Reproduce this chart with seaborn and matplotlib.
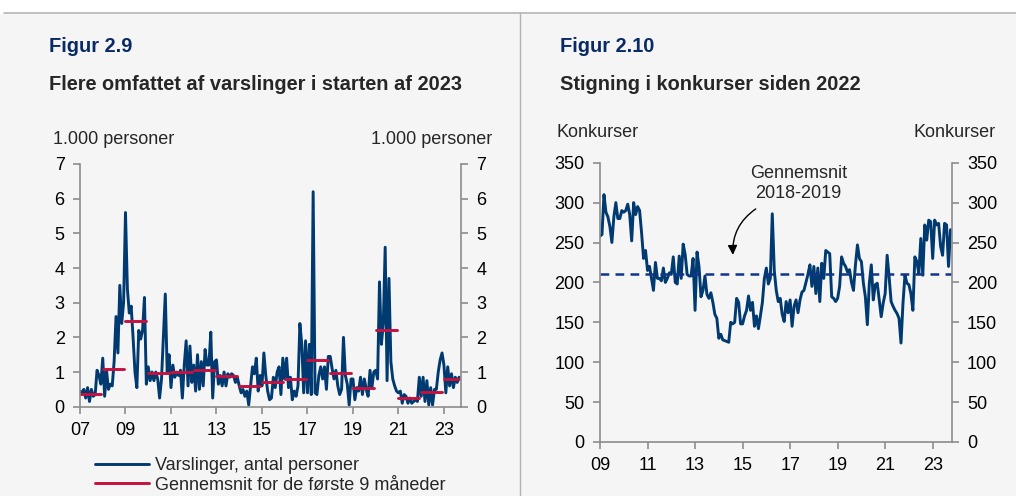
import numpy as np
import pandas as pd
import matplotlib.pyplot as plt
import seaborn as sns
from matplotlib.lines import Line2D
from matplotlib.patches import Rectangle

# Figur 2.9 - varslinger (1.000 personer), monthly from Jan 2007
varsling_start = 2007
varslinger = [
    0.45, 0.40, 0.50, 0.25, 0.55, 0.15, 0.50, 0.30, 0.35, 1.05, 0.90, 0.65,
    1.40, 0.30, 1.05, 0.50, 0.65, 0.60, 1.30, 2.60, 1.55, 3.50, 2.40, 3.00,
    5.60, 3.40, 2.70, 2.90, 2.00, 1.00, 0.55, 2.20, 1.95, 2.20, 3.15, 0.65,
    1.15, 0.75, 1.00, 0.75, 1.00, 0.80, 0.25, 0.80, 2.00, 3.25, 1.00, 1.50,
    0.55, 1.20, 0.85, 1.00, 0.90, 1.05, 0.25, 1.20, 1.90, 0.60, 1.75, 0.70,
    1.20, 0.45, 1.50, 0.50, 1.30, 0.60, 1.65, 1.20, 1.20, 2.15, 0.25, 1.30,
    1.35, 0.65, 0.90, 0.60, 1.00, 0.60, 0.95, 0.85, 0.95, 0.90, 0.70, 0.85,
    0.60, 0.40, 0.50, 0.30, 0.45, 0.05, 0.60, 1.15, 0.95, 1.40, 0.45, 0.90,
    0.60, 1.55, 0.90, 0.45, 0.20, 0.25, 0.85, 0.55, 1.00, 1.15, 0.35, 1.40,
    0.80, 1.40, 0.55, 0.85, 0.20, 0.45, 0.30, 0.60, 2.40, 1.80, 0.40, 1.90,
    0.40, 1.80, 0.35, 6.20, 0.40, 0.35, 0.90, 1.15, 0.80, 1.15, 0.50, 1.45,
    1.45, 1.10, 0.80, 1.05, 0.60, 0.35, 0.50, 2.00, 0.90, 0.65, 0.05, 0.80,
    0.80, 0.20, 0.55, 0.45, 0.85, 0.35, 0.80, 0.50, 0.30, 1.05, 0.55, 1.00,
    1.05, 0.80, 3.60, 1.80, 2.40, 4.60, 0.75, 3.70, 1.30, 0.80, 0.60, 0.45,
    0.40, 0.45, 0.10, 0.35, 0.30, 0.10, 0.25, 0.10, 0.15, 0.20, 0.15, 0.85,
    0.30, 0.85, 0.15, 0.75, 0.05, 0.55, 0.05, 0.50, 0.50, 1.00, 1.35, 1.55,
    1.20, 0.40, 1.15, 0.60, 0.95, 0.55, 0.85, 0.70, 0.85,
]
snit_years = list(range(2007, 2024))
snit_9md = [0.37, 1.08, 2.47, 0.97, 1.00, 1.07, 0.88, 0.59, 0.71, 0.81,
            1.36, 0.97, 0.53, 2.22, 0.25, 0.41, 0.81]

# Figur 2.10 - konkurser, monthly from Jan 2009
konkurs_start = 2009
konkurser = [
    258, 260, 310, 288, 282, 270, 250, 282, 300, 280, 280, 290,
    288, 290, 298, 285, 252, 300, 285, 295, 290, 262, 230, 240,
    215, 220, 205, 190, 225, 205, 205, 202, 218, 200, 205, 212,
    210, 232, 200, 198, 233, 205, 248, 235, 210, 208, 208, 230,
    165, 238, 220, 182, 190, 208, 185, 180, 187, 175, 160, 155,
    130, 135, 128, 127, 126, 125, 150, 148, 150, 180, 175, 148,
    148, 158, 165, 183, 165, 175, 145, 158, 142, 158, 175, 205,
    218, 198, 205, 286, 215, 190, 176, 180, 160, 151, 176, 162,
    178, 145, 170, 178, 162, 178, 188, 190, 200, 210, 222, 195,
    220, 186, 218, 176, 224, 205, 240, 238, 236, 182, 180, 176,
    180, 195, 232, 224, 220, 213, 216, 200, 190, 222, 247, 230,
    226, 199, 182, 147, 199, 222, 178, 197, 199, 178, 157, 174,
    186, 234, 207, 176, 170, 165, 161, 155, 124, 174, 209, 199,
    197, 186, 165, 232, 226, 211, 255, 209, 272, 253, 278, 276,
    230, 278, 272, 274, 245, 234, 274, 272, 220, 266,
]
snit_2018_2019 = 211

BLUE = "#003a70"
RED = "#c4123f"
DASH = "#12358a"
GREY = "#8c8c8c"
BG = "#f5f5f5"

sns.set_style("ticks")
plt.rcParams["font.family"] = ["Liberation Sans", "DejaVu Sans"]
plt.rcParams["font.size"] = 13

df_v = pd.DataFrame({"x": varsling_start + np.arange(len(varslinger)) / 12,
                     "value": varslinger})
rows = []
for yr, v in zip(snit_years, snit_9md):
    n_months = min(12, len(varslinger) - (yr - varsling_start) * 12)
    for m in range(n_months):
        rows.append({"x": yr + m / 12, "value": v, "year": yr})
df_snit = pd.DataFrame(rows)

df_k = pd.DataFrame({"x": konkurs_start + np.arange(len(konkurser)) / 12,
                     "value": konkurser})

W, H = 1016, 496
fig = plt.figure(figsize=(W / 100, H / 100), dpi=100, facecolor=BG)

# top white strip, border and divider
fig.add_artist(Rectangle((0, 1 - 13 / H), 1, 13 / H, transform=fig.transFigure,
                         color="white", zorder=0))
fig.add_artist(Line2D([4 / W, 1], [1 - 13 / H] * 2, transform=fig.transFigure,
                      color="#b4b4b4", lw=1.2))
fig.add_artist(Line2D([520 / W] * 2, [0, 1 - 13 / H], transform=fig.transFigure,
                      color="#b4b4b4", lw=1.0))


def style_axes(ax):
    ax.set_facecolor("none")
    for side in ["left", "right", "bottom"]:
        ax.spines[side].set_visible(True)
        ax.spines[side].set_color(GREY)
        ax.spines[side].set_linewidth(1.2)
    ax.spines["top"].set_visible(False)
    ax.yaxis.set_ticks_position("both")
    ax.tick_params(axis="both", direction="out", length=5, width=1.2,
                   color=GREY, labelsize=13, labelcolor="black")
    ax.tick_params(axis="x", pad=6)
    ax.tick_params(axis="y", labelleft=True, labelright=True, pad=6)
    ax.set_xlabel("")
    ax.set_ylabel("")


# ---- Figur 2.9
ax1 = fig.add_axes([80 / W, 1 - 406.7 / H, 381 / W, 242.7 / H])
sns.lineplot(data=df_v, x="x", y="value", color=BLUE, lw=2.1, ax=ax1)
sns.lineplot(data=df_snit, x="x", y="value", units="year", estimator=None,
             color=RED, lw=2.1, ax=ax1)
ax1.set_xlim(2007, 2023.75)
ax1.set_ylim(0, 7)
ax1.set_yticks(range(0, 8))
ticks1 = list(range(2007, 2024, 2))
ax1.set_xticks(ticks1)
ax1.set_xticklabels([f"{t % 100:02d}" for t in ticks1])
style_axes(ax1)

# ---- Figur 2.10
ax2 = fig.add_axes([600 / W, 1 - 442 / H, 351.7 / W, 279.3 / H])
sns.lineplot(data=df_k, x="x", y="value", color=BLUE, lw=2.1, ax=ax2)
ax2.axhline(snit_2018_2019, color=DASH, lw=1.8, ls=(0, (3.5, 2.5)))
ax2.set_xlim(2009, 2023.8)
ax2.set_ylim(0, 350)
ax2.set_yticks(range(0, 351, 50))
ticks2 = list(range(2009, 2024, 2))
ax2.set_xticks(ticks2)
ax2.set_xticklabels([f"{t % 100:02d}" for t in ticks2])
style_axes(ax2)
ax2.text(2017.34, 324, "Gennemsnit\n2018-2019", ha="center", va="center",
         fontsize=13, linespacing=1.2)
ax2.annotate("", xy=(2014.6, 231), xytext=(2015.65, 294),
             arrowprops=dict(arrowstyle="-|>", connectionstyle="arc3,rad=0.3",
                             color="black", lw=1.0, mutation_scale=14))

# titles and unit labels
fig.text(49 / W, 1 - 47 / H, "Figur 2.9", color="#0a2a66", fontsize=14.4,
         fontweight="bold", va="center")
fig.text(49 / W, 1 - 85 / H, "Flere omfattet af varslinger i starten af 2023",
         fontsize=14.4, fontweight="bold", va="center")
fig.text(560 / W, 1 - 47 / H, "Figur 2.10", color="#0a2a66", fontsize=14.4,
         fontweight="bold", va="center")
fig.text(560 / W, 1 - 85 / H, "Stigning i konkurser siden 2022",
         fontsize=14.4, fontweight="bold", va="center")

fig.text(53 / W, 1 - 140 / H, "1.000 personer", va="center", fontsize=13)
fig.text(492 / W, 1 - 140 / H, "1.000 personer", va="center", ha="right",
         fontsize=13)
fig.text(557 / W, 1 - 133 / H, "Konkurser", va="center", fontsize=13)
fig.text(996 / W, 1 - 133 / H, "Konkurser", va="center", ha="right",
         fontsize=13)

handles = [Line2D([], [], color=BLUE, lw=2.1), Line2D([], [], color=RED, lw=2.1)]
fig.legend(handles, ["Varslinger, antal personer",
                     "Gennemsnit for de første 9 måneder"],
           loc="upper left", bbox_to_anchor=(95 / W, 1 - 457 / H),
           frameon=False, fontsize=13, handlelength=3.0, handletextpad=0.35,
           labelspacing=0.15, borderpad=0, borderaxespad=0)

fig.savefig("out.png", dpi=100, facecolor=fig.get_facecolor())
